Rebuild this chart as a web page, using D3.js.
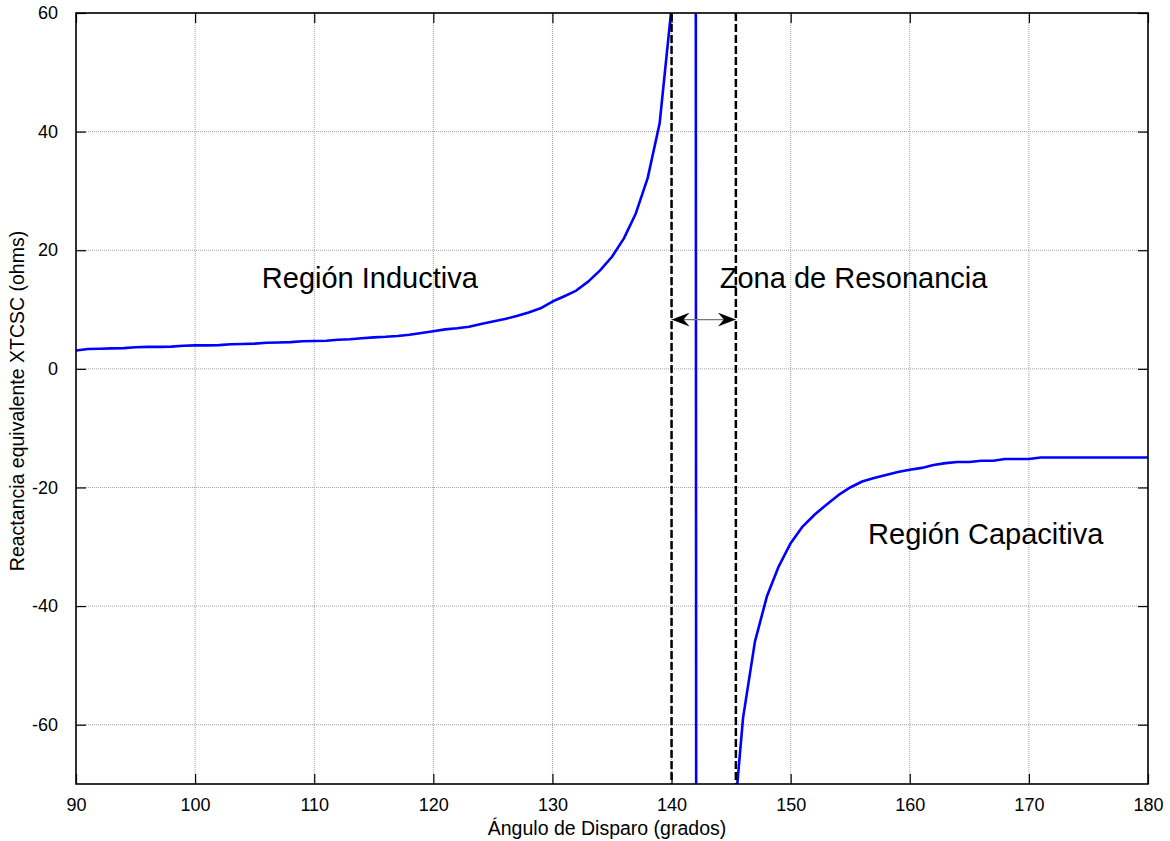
<!DOCTYPE html>
<html>
<head>
<meta charset="utf-8">
<script src="https://cdn.jsdelivr.net/npm/d3@7"></script>
<style>
  html, body { margin: 0; padding: 0; background: #fff; }
  svg { display: block; font-family: "Liberation Sans", Arial, Helvetica, sans-serif; }
</style>
</head>
<body>
<svg id="chart" width="1170" height="841"></svg>
<script>
// Firing angle (degrees) and equivalent TCSC reactance (ohms)
const angles = d3.range(90, 181, 1);
const xtcsc = [
  3.1, 3.35, 3.4, 3.45, 3.5, 3.65, 3.7, 3.7, 3.75, 3.9,          // 90-99
  3.95, 3.95, 4.0, 4.15, 4.2, 4.25, 4.4, 4.45, 4.5, 4.65,        // 100-109
  4.7, 4.75, 4.9, 5.0, 5.15, 5.3, 5.4, 5.55, 5.75, 6.05,         // 110-119
  6.35, 6.65, 6.85, 7.1, 7.55, 8.0, 8.4, 8.9, 9.5, 10.2,         // 120-129
  11.35, 12.25, 13.2, 14.7, 16.6, 18.9, 22.0, 26.2, 32.2, 41.4,  // 130-139
  61.0, 105, 210, -4000, -300, -82, -58.9, -46.0, -38.4, -33.3,  // 140-149
  -29.4, -26.6, -24.6, -22.9, -21.3, -20.0, -19.0, -18.4, -17.9, -17.4, // 150-159
  -17.0, -16.7, -16.2, -15.9, -15.7, -15.7, -15.5, -15.5, -15.2, -15.2, // 160-169
  -15.2, -14.95, -14.95, -14.95, -14.95, -14.95, -14.95, -14.95, -14.95, -14.95, // 170-179
  -14.95                                                          // 180
];

const xTicks = [90, 100, 110, 120, 130, 140, 150, 160, 170, 180];
const yTicks = [-60, -40, -20, 0, 20, 40, 60];

// Resonance zone limits and the arrow height
const resonanceLimits = [140, 145.4];
const arrowLevel = 8.3;

// Region labels: [text, angle, reactance]
const regionLabels = [
  ["Región Inductiva", 105.6, 15.3],
  ["Zona de Resonancia", 144.05, 15.3],
  ["Región Capacitiva", 156.5, -27.8]
];

const xLabel = "Ángulo de Disparo (grados)";
const yLabel = "Reactancia equivalente XTCSC (ohms)";

const margin = { left: 76, right: 22, top: 13, bottom: 57 };
const W = 1170, H = 841;
const pw = W - margin.left - margin.right;
const ph = H - margin.top - margin.bottom;

const svg = d3.select("#chart");
const defs = svg.append("defs");
defs.append("clipPath").attr("id", "plotClip")
  .append("rect").attr("width", pw).attr("height", ph);

// Filled, notched arrowheads for the double arrow
const marker = (id, atEnd) => defs.append("marker")
  .attr("id", id).attr("viewBox", "0 0 18 14")
  .attr("refX", atEnd ? 18 : 0).attr("refY", 7)
  .attr("markerWidth", 18).attr("markerHeight", 14)
  .attr("markerUnits", "userSpaceOnUse").attr("orient", "auto")
  .append("path")
  .attr("d", atEnd ? "M0,0 L18,7 L0,14 L6,7 Z" : "M18,0 L0,7 L18,14 L12,7 Z")
  .attr("fill", "#000");
marker("arrEnd", true);
marker("arrStart", false);

const x = d3.scaleLinear().domain([90, 180]).range([0, pw]);
const y = d3.scaleLinear().domain([-70, 60]).range([ph, 0]);

const g = svg.append("g").attr("transform", `translate(${margin.left},${margin.top})`);

// Dotted grid
g.append("g").selectAll("line").data(xTicks.slice(1, -1)).join("line")
  .attr("x1", d => x(d)).attr("x2", d => x(d)).attr("y1", 0).attr("y2", ph)
  .attr("stroke", "#a0a0a0").attr("stroke-width", 1).attr("stroke-dasharray", "1,1");
g.append("g").selectAll("line").data(yTicks).join("line")
  .attr("x1", 0).attr("x2", pw).attr("y1", d => y(d)).attr("y2", d => y(d))
  .attr("stroke", "#a0a0a0").attr("stroke-width", 1).attr("stroke-dasharray", "1,1");

// Reactance curve
const line = d3.line().x((d, i) => x(angles[i])).y(d => y(d));
g.append("path").datum(xtcsc)
  .attr("clip-path", "url(#plotClip)")
  .attr("d", line)
  .attr("fill", "none").attr("stroke", "#0000ff").attr("stroke-width", 2.6)
  .attr("stroke-linejoin", "round");

// Resonance zone limits
g.append("g").selectAll("line").data(resonanceLimits).join("line")
  .attr("x1", d => x(d)).attr("x2", d => x(d)).attr("y1", 0).attr("y2", ph)
  .attr("stroke", "#000").attr("stroke-width", 2.5).attr("stroke-dasharray", "8,3");

// Double arrow across the resonance zone
g.append("line")
  .attr("x1", x(resonanceLimits[0])).attr("x2", x(resonanceLimits[1]))
  .attr("y1", y(arrowLevel)).attr("y2", y(arrowLevel))
  .attr("stroke", "#777").attr("stroke-width", 1.3)
  .attr("marker-start", "url(#arrStart)").attr("marker-end", "url(#arrEnd)");

// Axes with inward ticks on all four sides
const tickLen = 10;
const plain = d => String(d);
const xAxisB = d3.axisBottom(x).tickValues(xTicks).tickSize(-tickLen).tickPadding(14).tickFormat(plain);
const xAxisT = d3.axisTop(x).tickValues(xTicks).tickSize(-tickLen).tickFormat("");
const yAxisL = d3.axisLeft(y).tickValues(yTicks).tickSize(-tickLen).tickPadding(18).tickFormat(plain);
const yAxisR = d3.axisRight(y).tickValues(yTicks).tickSize(-tickLen).tickFormat("");

const styleAxis = sel => {
  sel.select(".domain").remove();
  sel.selectAll(".tick line").attr("stroke", "#000").attr("stroke-width", 1.2);
  sel.selectAll("text").attr("fill", "#000").attr("font-size", "18px")
    .attr("font-family", "Liberation Sans, Arial, sans-serif");
};
g.append("g").attr("transform", `translate(0,${ph})`).call(xAxisB).call(styleAxis);
g.append("g").call(xAxisT).call(styleAxis);
g.append("g").call(yAxisL).call(styleAxis);
g.append("g").attr("transform", `translate(${pw},0)`).call(yAxisR).call(styleAxis);

// Plot box
g.append("rect").attr("width", pw).attr("height", ph)
  .attr("fill", "none").attr("stroke", "#000").attr("stroke-width", 1.6);

// Region labels
g.append("g").selectAll("text").data(regionLabels).join("text")
  .attr("x", d => x(d[1])).attr("y", d => y(d[2]))
  .attr("dominant-baseline", "central")
  .attr("font-size", "29px").attr("fill", "#000")
  .text(d => d[0]);

// Axis titles
svg.append("text")
  .attr("x", 607).attr("y", 835)
  .attr("text-anchor", "middle").attr("font-size", "19.5px").attr("fill", "#000")
  .text(xLabel);
svg.append("text")
  .attr("transform", `translate(24,401) rotate(-90)`)
  .attr("text-anchor", "middle").attr("font-size", "19.5px").attr("fill", "#000")
  .text(yLabel);
</script>
</body>
</html>
